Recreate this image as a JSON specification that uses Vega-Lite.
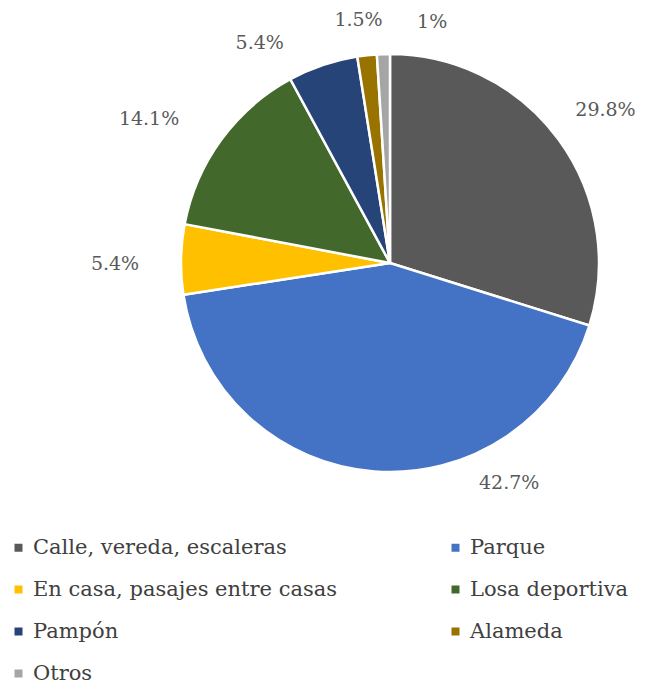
{
  "$schema": "https://vega.github.io/schema/vega-lite/v6.json",
  "width": 520,
  "height": 526,
  "autosize": "none",
  "padding": {"left": 130, "top": 0, "right": 0, "bottom": 164},
  "background": "white",
  "config": {"view": {"stroke": null}, "text": {"font": "DejaVu Serif", "fontSize": 19, "color": "#595959", "baseline": "middle", "radius": 250}},
  "data": {
    "values": [
      {"idx": 1, "cat": "Calle, vereda, escaleras", "pct": 29.8, "label": "29.8%"},
      {"idx": 2, "cat": "Parque", "pct": 42.7, "label": "42.7%"},
      {"idx": 3, "cat": "En casa, pasajes entre casas", "pct": 5.4, "label": "5.4%"},
      {"idx": 4, "cat": "Losa deportiva", "pct": 14.1, "label": "14.1%"},
      {"idx": 5, "cat": "Pampón", "pct": 5.4, "label": "5.4%"},
      {"idx": 6, "cat": "Alameda", "pct": 1.5, "label": "1.5%"},
      {"idx": 7, "cat": "Otros", "pct": 1.0, "label": "1%"}
    ]
  },
  "encoding": {
    "theta": {"field": "pct", "type": "quantitative", "stack": true},
    "order": {"field": "idx", "type": "quantitative"}
  },
  "layer": [
    {
      "mark": {"type": "arc", "outerRadius": 209, "stroke": "white", "strokeWidth": 2.5},
      "encoding": {
        "color": {
          "field": "cat",
          "type": "nominal",
          "scale": {
            "domain": ["Calle, vereda, escaleras", "Parque", "En casa, pasajes entre casas", "Losa deportiva", "Pampón", "Alameda", "Otros"],
            "range": ["#595959", "#4472C4", "#FFC000", "#43682B", "#264478", "#997300", "#A5A5A5"]
          },
          "legend": {
            "title": null,
            "orient": "none",
            "legendX": -122,
            "legendY": 537,
            "direction": "horizontal",
            "columns": 2,
            "symbolType": "square",
            "symbolSize": 64,
            "symbolStrokeWidth": 0,
            "labelFont": "DejaVu Serif",
            "labelFontSize": 21,
            "labelColor": "#404040",
            "labelLimit": 400,
            "labelOffset": 4,
            "rowPadding": 20,
            "columnPadding": 108
          }
        }
      }
    },
    {
      "mark": {"type": "text", "dx": 14, "dy": -5},
      "encoding": {"text": {"condition": {"test": "datum.idx !== 1", "value": ""}, "field": "label", "type": "nominal"}}
    },
    {
      "mark": {"type": "text", "dx": 138, "dy": -29},
      "encoding": {"text": {"condition": {"test": "datum.idx !== 2", "value": ""}, "field": "label", "type": "nominal"}}
    },
    {
      "mark": {"type": "text", "dx": -25, "dy": 5},
      "encoding": {"text": {"condition": {"test": "datum.idx !== 3", "value": ""}, "field": "label", "type": "nominal"}}
    },
    {
      "mark": {"type": "text", "dx": -39, "dy": 3},
      "encoding": {"text": {"condition": {"test": "datum.idx !== 4", "value": ""}, "field": "label", "type": "nominal"}}
    },
    {
      "mark": {"type": "text", "dx": -50, "dy": 17},
      "encoding": {"text": {"condition": {"test": "datum.idx !== 5", "value": ""}, "field": "label", "type": "nominal"}}
    },
    {
      "mark": {"type": "text", "dx": -4, "dy": 5},
      "encoding": {"text": {"condition": {"test": "datum.idx !== 6", "value": ""}, "field": "label", "type": "nominal"}}
    },
    {
      "mark": {"type": "text", "dx": 50, "dy": 9},
      "encoding": {"text": {"condition": {"test": "datum.idx !== 7", "value": ""}, "field": "label", "type": "nominal"}}
    }
  ]
}
